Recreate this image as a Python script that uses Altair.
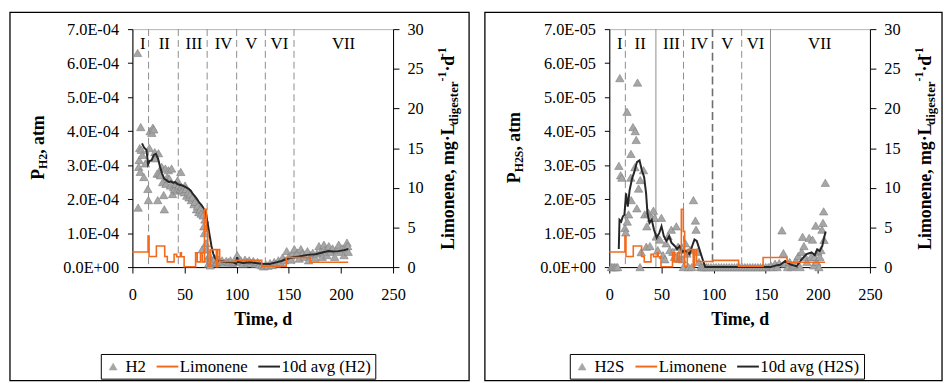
import altair as alt
import pandas as pd

FONT = "Liberation Serif"
ORANGE = "#F26B1D"
GREY_FILL = "#A6A6A6"
GREY_EDGE = "#7F7F7F"
DARK = "#262626"
PW, PH = 264, 241

# ---------------- data ----------------
# H2 partial pressure, atm  (day, value)
h2_points = [
    (5, 6.3e-4), (5.5, 1.75e-4), (6, 2.95e-4), (6.5, 3.15e-4), (7, 3.5e-4), (7.5, 2.8e-4),
    (8, 4.12e-4), (8.5, 3.45e-4), (9.5, 3.3e-4), (11, 2.65e-4), (12.5, 3.05e-4), (14.8, 2.3e-4),
    (15.3, 1.97e-4), (16.3, 3.5e-4), (17, 4.0e-4), (18.6, 3.95e-4), (19.6, 4.1e-4), (20.5, 4.05e-4),
    (21.5, 3.38e-4), (22, 3.2e-4), (23.7, 2.75e-4), (24.3, 1.97e-4), (25, 3.35e-4), (25.9, 2.75e-4),
    (27, 2.7e-4), (28.1, 2.95e-4), (29, 2.5e-4), (30, 2.12e-4), (30.6, 1.7e-4), (31.6, 2.9e-4),
    (32.2, 2.45e-4), (33.5, 2.65e-4), (34.5, 2.85e-4), (35.4, 2.6e-4), (36.5, 2.4e-4), (37.6, 2.9e-4),
    (38.5, 2.15e-4), (39.5, 2.35e-4), (40.5, 2.3e-4), (41.5, 2.45e-4), (42.6, 2.25e-4), (43.3, 2.55e-4),
    (44.5, 2.4e-4), (45.8, 2.3e-4), (46.4, 2.8e-4), (47.2, 2.35e-4), (48, 2.27e-4), (49.6, 2.2e-4),
    (50.5, 2.4e-4), (51.5, 2.3e-4), (52.1, 2.1e-4), (53.5, 2.2e-4), (54.3, 2.05e-4), (55.5, 2.15e-4),
    (56.5, 1.97e-4), (57.5, 2.05e-4), (59, 1.85e-4), (60, 1.92e-4), (61.5, 1.7e-4), (62.5, 1.8e-4),
    (63.7, 1.62e-4), (65, 1.7e-4), (65.9, 1.57e-4), (66.9, 0.52e-4), (67.8, 1.52e-4), (68.5, 1.2e-4),
    (69, 1.0e-4), (69.5, 1.4e-4), (70.5, 0.7e-4), (71.6, 0.52e-4), (72.2, 0.25e-4), (73, 0.1e-4),
    (73.8, 0.35e-4), (74.6, 0.05e-4), (75.5, 0.2e-4), (76.5, 0.12e-4), (77.8, 0.17e-4), (79, 0.25e-4),
    (80, 0.12e-4), (81, 0.15e-4), (82.5, 0.22e-4), (84, 0.15e-4), (86, 0.2e-4), (88, 0.13e-4),
    (90, 0.18e-4), (92, 0.15e-4), (94, 0.2e-4), (96, 0.12e-4), (98, 0.16e-4), (100.5, 0.35e-4),
    (102, 0.15e-4), (104, 0.2e-4), (106, 0.1e-4), (108, 0.22e-4), (110, 0.15e-4), (112, 0.2e-4),
    (114, 0.12e-4), (116, 0.18e-4), (118, 0.1e-4), (120, 0.15e-4), (122, 0.08e-4), (124, 0.05e-4),
    (126, 0.02e-4), (128, 0.08e-4), (130, 0.04e-4), (132, 0.12e-4), (134, 0.06e-4), (136, 0.15e-4),
    (138, 0.1e-4), (140, 0.2e-4), (142, 0.15e-4), (144, 0.28e-4), (146, 0.2e-4), (148, 0.47e-4),
    (150, 0.3e-4), (152, 0.22e-4), (153.5, 0.4e-4), (155.3, 0.53e-4), (157, 0.35e-4), (158.5, 0.43e-4),
    (160, 0.25e-4), (161.6, 0.53e-4), (163, 0.4e-4), (165, 0.3e-4), (167.9, 0.47e-4), (169, 0.2e-4),
    (171, 0.35e-4), (173, 0.42e-4), (175, 0.28e-4), (177, 0.4e-4), (178.9, 0.62e-4), (180.5, 0.45e-4),
    (182, 0.3e-4), (183.7, 0.66e-4), (185, 0.5e-4), (186.5, 0.35e-4), (188.4, 0.62e-4), (190, 0.45e-4),
    (192, 0.55e-4), (194, 0.3e-4), (196, 0.5e-4), (197.9, 0.66e-4), (199.5, 0.45e-4), (201, 0.55e-4),
    (203, 0.35e-4), (204.5, 0.6e-4), (205.8, 0.72e-4), (206.5, 0.62e-4), (207, 0.45e-4),
]

# 10 d moving average of H2
h2_avg = [
    (9.2, 3.64e-4), (11.5, 3.5e-4), (13.5, 3.45e-4), (15, 3.02e-4), (16.5, 3.12e-4), (18.5, 3.15e-4),
    (20.5, 3.3e-4), (22.5, 3.33e-4), (24.5, 3.2e-4), (26.5, 2.95e-4), (28.5, 2.75e-4), (30.5, 2.6e-4),
    (33, 2.55e-4), (35, 2.5e-4), (37, 2.52e-4), (39, 2.48e-4), (41, 2.5e-4), (43, 2.45e-4),
    (45, 2.42e-4), (48, 2.4e-4), (51, 2.35e-4), (54, 2.3e-4), (56, 2.25e-4), (58, 2.15e-4),
    (60, 2.08e-4), (62, 2.0e-4), (64, 1.9e-4), (66.3, 1.82e-4), (68.5, 1.72e-4), (70.4, 1.58e-4),
    (71.5, 1.4e-4), (72.7, 1.2e-4), (74, 0.95e-4), (75.8, 0.62e-4), (77.5, 0.4e-4), (79, 0.28e-4),
    (81, 0.2e-4), (83.7, 0.18e-4), (88, 0.16e-4), (92, 0.15e-4), (96.3, 0.14e-4), (99.5, 0.1e-4),
    (100.5, 0.29e-4), (101.5, 0.15e-4), (106, 0.12e-4), (112.7, 0.14e-4), (118, 0.12e-4), (124, 0.1e-4),
    (131.6, 0.09e-4), (137.9, 0.14e-4), (143, 0.18e-4), (147, 0.23e-4), (153, 0.28e-4), (160, 0.31e-4),
    (168, 0.36e-4), (175.8, 0.38e-4), (182, 0.43e-4), (188, 0.47e-4), (193, 0.46e-4), (197.6, 0.47e-4),
    (203, 0.5e-4), (207, 0.53e-4),
]

# H2S partial pressure, atm  (day, value)
h2s_points = [
    (2, 0), (3.5, 0), (5, 0), (6.5, 0), (8, 0), (9.2, 2.98e-5), (10.1, 5.56e-5), (10.9, 2.7e-5),
    (12.1, 2.63e-5), (15, 1.15e-5), (15.8, 1.02e-5), (17, 4.57e-5), (17.2, 1.34e-5), (18.5, 1.55e-5),
    (20.6, 2.63e-5), (20.8, 3.33e-5), (21, 1.97e-5), (22.7, 4.12e-5), (24.6, 2.94e-5), (24.9, 4.0e-5),
    (25.8, 3.74e-5), (26.4, 1.73e-5), (27.1, 5.43e-5), (28.1, 2.31e-5), (29.5, 0), (29.7, 2.56e-5),
    (30.6, 0.44e-5), (32.8, 2.85e-5), (34, 1.55e-5), (35.5, 0.6e-5), (36, 1.2e-5), (37.5, 1.6e-5),
    (39, 0.62e-5), (40.5, 1.45e-5), (42.3, 1.66e-5), (43.5, 1.45e-5), (45, 0.9e-5), (46.5, 0.5e-5),
    (48.5, 0.81e-5), (50, 1.45e-5), (51.5, 0.35e-5), (53.3, 0.23e-5), (54.5, 0.7e-5), (56.4, 0.91e-5),
    (58, 0.5e-5), (59.5, 1.1e-5), (61, 0.45e-5), (62.5, 0.3e-5), (64.3, 1.2e-5), (66, 0.6e-5),
    (67.5, 0.25e-5), (69, 0.5e-5), (70, 0.23e-5), (71, 0), (73, 0.7e-5), (74.5, 0.4e-5), (76, 0),
    (77.5, 0.5e-5), (79, 0), (80.7, 1.97e-5), (82.6, 1.37e-5), (83.2, 1.1e-5), (84.5, 0.45e-5),
    (86, 0.15e-5), (87.5, 0), (89, 0), (91, 0), (93, 0), (95, 0), (97.5, 0), (100, 0), (102.5, 0),
    (105, 0), (107.5, 0), (110, 0), (112.5, 0), (115, 0), (117.5, 0), (120, 0), (122.5, 0), (125, 0),
    (127.5, 0), (130, 0), (132.5, 0), (135, 0), (137.5, 0), (140, 0), (142.5, 0), (145, 0), (147.5, 0),
    (150, 0), (152.5, 0), (155, 0.05e-5), (157, 0), (159, 0.1e-5), (161, 0), (163, 0.12e-5),
    (165.6, 1.08e-5), (167, 0.41e-5), (169, 0.1e-5), (171, 0), (173, 0.15e-5), (175, 0), (177, 0.05e-5),
    (179, 0.2e-5), (181.3, 0.33e-5), (183, 0), (184.5, 0.45e-5), (185.4, 0.89e-5), (186.7, 0.62e-5),
    (188, 0.3e-5), (189.5, 0.15e-5), (191.7, 0.86e-5), (193.5, 0.3e-5), (194.9, 0.81e-5), (196, 0.05e-5),
    (197, 0.3e-5), (198, 1.22e-5), (199, 0.15e-5), (200, 0.45e-5), (201, 0), (202, 0.3e-5),
    (203, 0.5e-5), (204, 1.1e-5), (205, 1.3e-5), (205.6, 1.64e-5), (206, 0.8e-5), (207.2, 2.48e-5),
]

# 10 d moving average of H2S
h2s_avg = [
    (9.1, 0.53e-5), (9.8, 1.39e-5), (11.4, 1.34e-5), (13, 1.49e-5), (14.5, 1.54e-5), (16.1, 2.17e-5),
    (17.7, 1.78e-5), (19.5, 2.26e-5), (21.8, 2.6e-5), (24, 2.8e-5), (26.5, 3.09e-5), (29, 3.14e-5),
    (31.2, 2.85e-5), (33.4, 2.65e-5), (35.3, 2.17e-5), (36.6, 1.59e-5), (38.5, 1.3e-5), (40.7, 1.39e-5),
    (42.9, 1.1e-5), (45.4, 0.86e-5), (47.9, 1.0e-5), (50.1, 1.2e-5), (52.3, 0.91e-5), (54.9, 0.77e-5),
    (57.4, 0.91e-5), (59.6, 0.72e-5), (62.8, 0.62e-5), (65, 0.53e-5), (67.5, 0.62e-5), (70, 0.45e-5),
    (73.2, 0.48e-5), (77, 0.38e-5), (79.5, 0.62e-5), (81.7, 0.81e-5), (83.9, 0.77e-5), (86.4, 0.53e-5),
    (89.5, 0.23e-5), (92, 0), (100, 0), (120, 0), (140, 0), (154.5, 0), (160, 0.05e-5), (164, 0.07e-5),
    (168.7, 0.18e-5), (173.4, 0.08e-5), (179.7, 0.02e-5), (184.5, 0.23e-5), (189.2, 0.38e-5),
    (194, 0.43e-5), (197.1, 0.35e-5), (199.3, 0.52e-5), (201.8, 0.47e-5), (204.3, 0.62e-5),
    (205.6, 0.81e-5), (207.5, 1.05e-5),
]

# Limonene loading, mg/L_digester/d (step changes: day, new value)
limonene = [
    (0, 1.9), (15, 3.9), (16, 1.33), (23, 2.65), (31, 1.33), (33.5, 0.66), (40, 1.6), (42.5, 1.3),
    (46, 1.8), (47, 1.3), (49.6, 0.05), (60.6, 1.8), (62.2, 0.66), (65.3, 1.8), (67, 0.66),
    (69.1, 7.3), (71, 4.5), (72.3, 0.1), (74.8, 2.2), (80.5, 0.05), (81.8, 2.2), (83.7, 0.7),
    (99.5, 0.85), (124, 0.1), (147.5, 1.2), (170.5, 0.62), (207, 0.62),
]

phases_h2_dashed = [15.5, 44, 71.7, 100, 127.5, 155]
phases_h2_solid = []
phases_h2_bold = []
phases_h2s_dashed = [15.4, 71.2, 127]
phases_h2s_solid = [44.7, 154.6]
phases_h2s_bold = [99]
roman = ["I", "II", "III", "IV", "V", "VI", "VII"]
roman_day_h2 = [10, 30.5, 59, 87.5, 114, 141, 202.5]
roman_day_h2s = [10, 29.6, 59.6, 86.4, 113.2, 140.3, 201.8]

x_ticks = [0, 50, 100, 150, 200, 250]
h2_ticks = [0, 1e-4, 2e-4, 3e-4, 4e-4, 5e-4, 6e-4, 7e-4]
h2s_ticks = [0, 1e-5, 2e-5, 3e-5, 4e-5, 5e-5, 6e-5, 7e-5]
lim_ticks = [0, 5, 10, 15, 20, 25, 30]

# ---------------- helpers ----------------
# Times bold advance widths (per 1000 em) for the rotated rich titles
TW = {" ": 250, ",": 250, "-": 333, "·": 250, "1": 500, "2": 500, "H": 778, "S": 556, "P": 611,
      "a": 500, "t": 333, "m": 833, "L": 667, "i": 278, "o": 500, "n": 556, "e": 444, "g": 500,
      "d": 556, "s": 389, "r": 444}


def tw(s, size):
    return sum(TW.get(c, 500) for c in s) * size / 1000.0


one = pd.DataFrame({"k": [0]})


def vtitle(pieces, xbase, ycenter):
    total = sum(tw(t, s) for t, s, _ in pieces)
    y = ycenter + total / 2.0
    out = []
    for t, s, shift in pieces:
        out.append(
            alt.Chart(one).mark_text(text=t, angle=270, align="left", baseline="alphabetic",
                                     font=FONT, fontSize=s, fontWeight="bold", color="black")
            .encode(x=alt.value(xbase + shift), y=alt.value(y))
        )
        y -= tw(t, s)
    return out


def panel(gas, points, avg, ticks, label_expr, dashed, solid, bold, roman_days, legend_x, rect_x):
    names = [gas, "Limonene", f"10d avg ({gas})"]
    pts_df = pd.DataFrame(points, columns=["d", "v"]).assign(s=names[0])
    avg_df = pd.DataFrame(avg, columns=["d", "v"]).assign(s=names[2])
    lim_df = pd.DataFrame(limonene, columns=["d", "lim"]).assign(s=names[1])

    xenc = alt.X("d:Q", scale=alt.Scale(domain=[0, 250], nice=False),
                 axis=alt.Axis(values=x_ticks, title="Time, d", format="d", grid=False,
                               labelFlush=False, tickSize=6, labelPadding=14, titlePadding=8,
                               domainColor="black", tickColor="black"))
    yscale = alt.Scale(domain=[0, ticks[-1]], nice=False)
    yaxis = alt.Axis(values=ticks, labelExpr=label_expr, title=None, grid=False, tickSize=5,
                     labelFlush=False, labelPadding=9, domainColor="black", tickColor="black")
    sym = "datum.value === '%s'" % gas
    legend = alt.Legend(
        orient="none", legendX=legend_x, legendY=329, direction="horizontal", title=None,
        labelFont=FONT, labelFontSize=17, labelColor="black", labelOffset=4,
        symbolType={"expr": f"{sym} ? 'triangle-up' : 'stroke'"},
        symbolSize={"expr": f"{sym} ? 64 : 484"},
        symbolStrokeWidth={"expr": f"{sym} ? 0.6 : 2"},
        columnPadding=6, padding=4, strokeColor="black", fillColor="white",
    )
    color = alt.Color("s:N", scale=alt.Scale(domain=names, range=[GREY_FILL, ORANGE, DARK]),
                      legend=legend)

    border = alt.Chart(one).mark_rect(fillOpacity=0, stroke="black", strokeWidth=1.3).encode(
        x=alt.value(rect_x[0]), x2=alt.value(rect_x[1]), y=alt.value(-17), y2=alt.value(356))
    layers = [border]
    if dashed:
        layers.append(alt.Chart(pd.DataFrame({"d": dashed})).mark_rule(
            color="#8C8C8C", strokeWidth=1, strokeDash=[7, 4]).encode(x=xenc))
    if bold:
        layers.append(alt.Chart(pd.DataFrame({"d": bold})).mark_rule(
            color="#6E6E6E", strokeWidth=1.6, strokeDash=[8, 4]).encode(x=xenc))
    if solid:
        layers.append(alt.Chart(pd.DataFrame({"d": solid})).mark_rule(
            color="#8C8C8C", strokeWidth=1).encode(x=xenc))
    layers.append(alt.Chart(pd.DataFrame({"d": roman_days, "t": roman})).mark_text(
        font=FONT, fontSize=17, color="black", baseline="middle").encode(
        x=xenc, y=alt.value(15), text="t:N"))
    layers.append(alt.Chart(pts_df).mark_point(
        shape="triangle-up", filled=True, size=72, opacity=1, stroke=GREY_EDGE, strokeWidth=0.6
    ).encode(x=xenc, y=alt.Y("v:Q", scale=yscale, axis=yaxis), color=color))
    layers.append(alt.Chart(avg_df).mark_line(strokeWidth=2).encode(
        x=xenc, y=alt.Y("v:Q", scale=yscale, axis=yaxis), color=color))
    layers += vtitle([("P", 18, 0), ("H" + gas[1:], 12, 3), (", atm", 18, 0)], -90, 120)
    layers += vtitle([("Limonene, mg·L", 18, 0), ("digester", 13, 4), ("-1", 12, -8),
                      ("·d", 18, 0), ("-1", 12, -8)], 326, 121)
    primary = alt.layer(*layers)

    lim = alt.Chart(lim_df).mark_line(interpolate="step-after", strokeWidth=1.6).encode(
        x=xenc,
        y=alt.Y("lim:Q", scale=alt.Scale(domain=[0, 30], nice=False),
                axis=alt.Axis(orient="right", values=lim_ticks, title=None, grid=False,
                              labelFlush=False, tickSize=6, labelPadding=8, domainColor="black",
                              tickColor="black")),
        color=color)
    return alt.layer(primary, lim).resolve_scale(y="independent").properties(width=PW, height=PH)


left = panel("H2", h2_points, h2_avg, h2_ticks,
             "datum.value == 0 ? '0.0E+00' : format(datum.value * 10000, '.1f') + 'E-04'",
             phases_h2_dashed, phases_h2_solid, phases_h2_bold, roman_day_h2, -32, (-124, 341))
right = panel("H2S", h2s_points, h2s_avg, h2s_ticks,
              "datum.value == 0 ? '0.0E+00' : format(datum.value * 100000, '.1f') + 'E-05'",
              phases_h2s_dashed, phases_h2s_solid, phases_h2s_bold, roman_day_h2s, -40, (-126, 337))

chart = (
    alt.hconcat(left, right, spacing=12)
    .resolve_scale(color="independent", x="independent", y="independent")
    .resolve_legend(color="independent")
    .properties(padding=0, background="white")
    .configure_view(stroke="#B5B5B5", strokeWidth=1)
    .configure_axis(labelFont=FONT, labelFontSize=16.5, labelColor="black",
                    titleFont=FONT, titleFontSize=18, titleFontWeight="bold", titleColor="black")
)

chart.save("out.html", embed_options={"renderer": "svg", "actions": False})
